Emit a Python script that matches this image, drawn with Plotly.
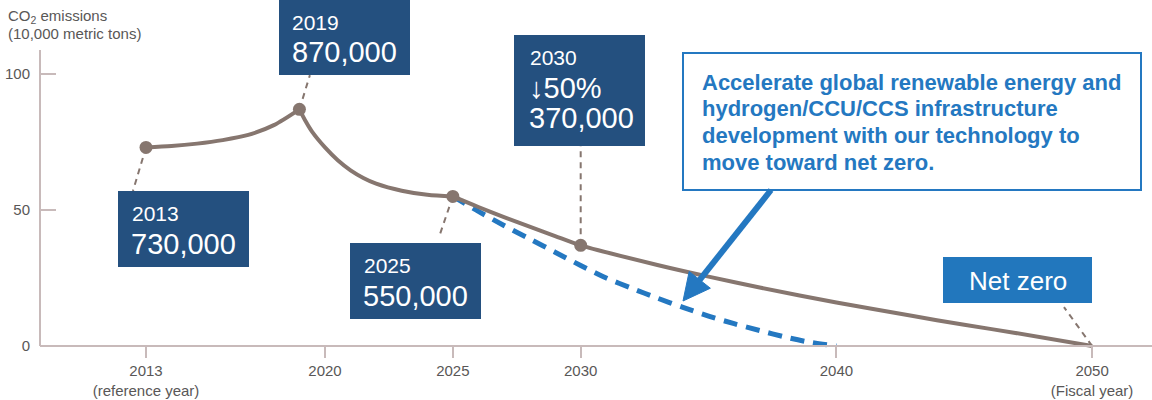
import math
import plotly.graph_objects as go

# ---- data (CO2 emissions, 10,000 metric tons) ----
years_rise = [2013, 2014, 2015, 2016, 2017, 2018, 2019]
vals_rise = [73, 73.5, 74.4, 75.7, 77.6, 81.2, 87]

years_drop = [2019, 2019.25, 2019.5, 2020, 2020.5, 2021, 2021.5, 2022, 2023, 2024, 2025]
vals_drop = [87, 82.5, 78.7, 73.0, 68.3, 64.6, 61.8, 59.7, 57.1, 55.6, 55]

years_plan = [2025, 2026, 2027, 2028, 2029, 2030, 2033, 2035, 2037, 2040, 2043, 2045, 2047, 2050]
vals_plan = [55, 51.1, 47.4, 43.9, 40.4, 37, 29.8, 25.5, 21.5, 16.0, 11.0, 7.8, 4.8, 0]

years_fast = [2025, 2026, 2027, 2028, 2029, 2030, 2031, 2032, 2033, 2034, 2035, 2036, 2037, 2038, 2039, 2040]
vals_fast = [55, 49.5, 44.3, 39.4, 34.5, 29.6, 25.0, 21.2, 17.6, 14.2, 11.0, 8.2, 5.7, 3.3, 1.3, 0]

key_years = [2013, 2019, 2025, 2030]
key_vals = [73, 87, 55, 37]

tick_years = [2013, 2020, 2025, 2030, 2040, 2050]
tick_text = ["2013<br>(reference year)", "2020", "2025", "2030", "2040", "2050<br>(Fiscal year)"]

# ---- styles ----
FONT = "Liberation Sans, Arial, Helvetica, sans-serif"
BROWN = "#86766f"
AXIS = "#c8baba"
GREY_TXT = "#595757"
NAVY = "#24507f"
BLUE = "#2478c1"
NZ_BLUE = "#2277bd"

W, H = 1152, 400
ML, MR, MT, MB = 40, 0, 50, 48
PW, PH = W - ML - MR, H - MT - MB


def px(x):
    """pixel column -> paper x"""
    return (x - ML) / PW


def py(y):
    """pixel row -> paper y"""
    return (H - MB - y) / PH


fig = go.Figure()

fig.add_trace(go.Scatter(
    x=years_fast, y=vals_fast, mode="lines",
    line=dict(color=BLUE, width=5, dash="14px,9px", shape="spline", smoothing=0.8),
    hoverinfo="skip"))

for xs, ys in [(years_rise, vals_rise), (years_drop, vals_drop), (years_plan, vals_plan)]:
    fig.add_trace(go.Scatter(
        x=xs, y=ys, mode="lines",
        line=dict(color=BROWN, width=4, shape="spline", smoothing=0.8),
        hoverinfo="skip"))

fig.add_trace(go.Scatter(
    x=key_years, y=key_vals, mode="markers",
    marker=dict(color=BROWN, size=13), hoverinfo="skip"))

shapes = []
annotations = []

# dashed leader lines from the key points to their labels
leaders = [
    (2013, 73, 2012.49, 57.0),
    (2019, 87, 2019.41, 99.6),
    (2025, 55, 2024.46, 40.1),
    (2030, 37, 2030.0, 73.9),
    (2050, 0, 2048.9, 14.3),
]
for x0, y0, x1, y1 in leaders:
    shapes.append(dict(type="line", xref="x", yref="y", x0=x0, y0=y0, x1=x1, y1=y1,
                       line=dict(color=BROWN, width=2, dash="6px,5px"), layer="below"))

# y axis line
shapes.append(dict(type="line", xref="paper", yref="paper", x0=0, x1=0,
                   y0=py(346), y1=1, line=dict(color=AXIS, width=2)))


def label_box(x0, y0, x1, y1, color, lines):
    shapes.append(dict(type="rect", xref="paper", yref="paper",
                       x0=px(x0), x1=px(x1), y0=py(y1), y1=py(y0),
                       fillcolor=color, line=dict(width=0), layer="above"))
    for text, size, lx, cy in lines:
        annotations.append(dict(xref="paper", yref="paper", x=px(lx), y=py(cy),
                                xanchor="left", yanchor="middle", showarrow=False,
                                text=text, font=dict(family=FONT, size=size, color="white")))


label_box(118, 191, 249, 267, NAVY, [("2013", 21, 130, 213.5), ("730,000", 29, 129, 243.5)])
label_box(279, -5, 410, 75, NAVY, [("2019", 21, 290, 22.5), ("870,000", 29, 290, 52)])
label_box(514, 35, 645, 146, NAVY, [("2030", 21, 528, 57.5), ("↓50%", 29, 527, 87.5),
                                    ("370,000", 29, 527, 118)])
label_box(350, 243, 481, 319, NAVY, [("2025", 21, 362, 265.5), ("550,000", 29, 361, 296)])

# net zero tag
shapes.append(dict(type="rect", xref="paper", yref="paper",
                   x0=px(943), x1=px(1092), y0=py(303), y1=py(257),
                   fillcolor=NZ_BLUE, line=dict(width=0), layer="above"))
annotations.append(dict(xref="paper", yref="paper", x=px(1017.5), y=py(281),
                        xanchor="center", yanchor="middle", showarrow=False,
                        text="Net zero", font=dict(family=FONT, size=26, color="white")))

# callout box
shapes.append(dict(type="rect", xref="paper", yref="paper",
                   x0=px(683), x1=px(1141), y0=py(190), y1=py(53),
                   fillcolor="white", line=dict(color=BLUE, width=2), layer="above"))
callout_lines = [
    "Accelerate global renewable energy and",
    "hydrogen/CCU/CCS infrastructure",
    "development with our technology to",
    "move toward net zero.",
]
for i, t in enumerate(callout_lines):
    annotations.append(dict(xref="paper", yref="paper", x=px(700), y=py(82 + 26.8 * i),
                            xanchor="left", yanchor="middle", showarrow=False,
                            text="<b>" + t + "</b>",
                            font=dict(family=FONT, size=22, color=BLUE)))

# arrow from callout to the accelerated path (shaft + triangular head)
tail = (771, 190)
tip = (683, 301)
dx, dy = tail[0] - tip[0], tail[1] - tip[1]
n = math.hypot(dx, dy)
ux, uy = dx / n, dy / n
head_len, head_half = 27, 13.5
bx, by = tip[0] + ux * head_len, tip[1] + uy * head_len
p1 = (bx + uy * head_half, by - ux * head_half)
p2 = (bx - uy * head_half, by + ux * head_half)
shapes.append(dict(type="line", xref="paper", yref="paper",
                   x0=px(tail[0]), y0=py(tail[1]),
                   x1=px(bx - ux * 3), y1=py(by - uy * 3),
                   line=dict(color=BLUE, width=6), layer="above"))
head_path = "M {},{} L {},{} L {},{} Z".format(
    px(tip[0]), py(tip[1]), px(p1[0]), py(p1[1]), px(p2[0]), py(p2[1]))
shapes.append(dict(type="path", xref="paper", yref="paper", path=head_path,
                   fillcolor=BLUE, line=dict(color=BLUE, width=1), layer="above"))

# axis title
annotations.append(dict(xref="paper", yref="paper", x=px(6), y=py(16),
                        xanchor="left", yanchor="middle", showarrow=False,
                        text="CO<sub>2</sub> emissions",
                        font=dict(family=FONT, size=15, color=GREY_TXT)))
annotations.append(dict(xref="paper", yref="paper", x=px(6), y=py(34),
                        xanchor="left", yanchor="middle", showarrow=False,
                        text="(10,000 metric tons)",
                        font=dict(family=FONT, size=15, color=GREY_TXT)))

x_lo = 2013 - (146 - ML) / 25.57
x_hi = 2013 + (W - MR - 146) / 25.57
y_lo = (346 - (H - MB)) / 2.72
y_hi = (346 - MT) / 2.72

fig.update_layout(
    width=W, height=H,
    margin=dict(l=ML, r=MR, t=MT, b=MB),
    paper_bgcolor="white", plot_bgcolor="rgba(0,0,0,0)",
    showlegend=False,
    font=dict(family=FONT, size=15, color=GREY_TXT),
    shapes=shapes, annotations=annotations,
    xaxis=dict(range=[x_lo, x_hi], tickvals=tick_years, ticktext=tick_text,
               ticks="outside", ticklen=11, tickwidth=2, tickcolor=AXIS,
               showline=True, linecolor=AXIS, linewidth=2, showgrid=False,
               zeroline=False, anchor="free", position=py(346),
               tickfont=dict(family=FONT, size=15, color=GREY_TXT)),
    yaxis=dict(range=[y_lo, y_hi], tickvals=[0, 50, 100],
               ticks="inside", ticklen=16, tickwidth=2, tickcolor=AXIS,
               showline=False, showgrid=False, zeroline=False,
               ticklabelstandoff=9,
               tickfont=dict(family=FONT, size=15, color=GREY_TXT)),
)

fig.write_html("out.html")
